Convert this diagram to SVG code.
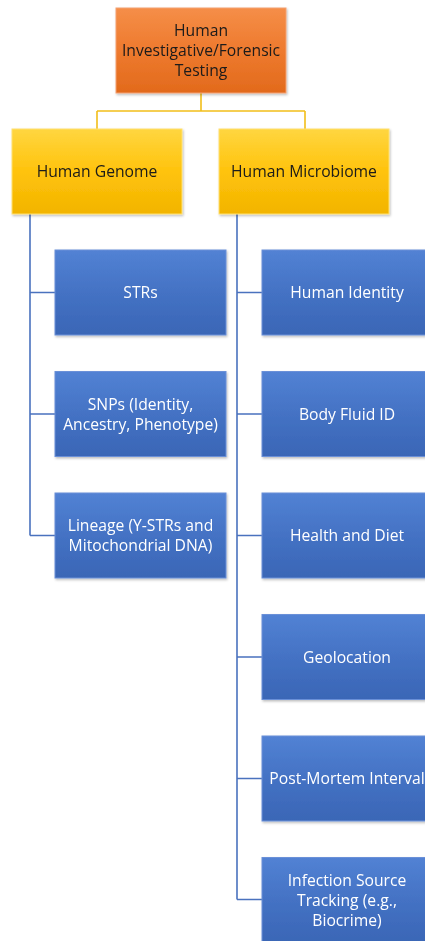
<svg xmlns="http://www.w3.org/2000/svg" width="425" height="941" viewBox="0 0 425 941">
<style>
.t{font-family:"Open Sans","Liberation Sans",Arial,sans-serif;font-size:15.7px;text-anchor:middle}
.dk{fill:#1a1a1a}
.wt{fill:#ffffff}
.cy{fill:none;stroke:#F2BE1A;stroke-width:1.6}
.cb{fill:none;stroke:#4A72BE;stroke-width:1.6}
.bo{fill:url(#go);stroke:#F3A070;stroke-width:1}
.by{fill:url(#gy);stroke:#FFE070;stroke-width:1}
.bb{fill:url(#gb);stroke:#6A90D8;stroke-width:1}
</style>
<defs>
<linearGradient id="go" x1="0" y1="0" x2="0" y2="1"><stop offset="0" stop-color="#F58E48"/><stop offset="0.5" stop-color="#EE7A2E"/><stop offset="1" stop-color="#E26A1C"/></linearGradient>
<linearGradient id="gy" x1="0" y1="0" x2="0" y2="1"><stop offset="0" stop-color="#FFD640"/><stop offset="0.5" stop-color="#FFC30C"/><stop offset="1" stop-color="#F2B400"/></linearGradient>
<linearGradient id="gb" x1="0" y1="0" x2="0" y2="1"><stop offset="0" stop-color="#5282D4"/><stop offset="0.5" stop-color="#4472C4"/><stop offset="1" stop-color="#3A66B6"/></linearGradient>
<filter id="sh" x="-5%" y="-5%" width="115%" height="115%"><feDropShadow dx="1" dy="1.5" stdDeviation="1" flood-color="#000" flood-opacity="0.25"/></filter>
</defs>
<g id="connectors">
<path class="cy" d="M201 93V111M97 111H305M97 111V129M305 111V129"/>
<path class="cb" d="M30 214V535.5M30 292.5H55M30 414H55M30 535.5H55"/>
<path class="cb" d="M237 214V899.5M237 292.5H262M237 414H262M237 535.5H262M237 657H262M237 778.5H262M237 899.5H262"/>
</g>
<g id="root" filter="url(#sh)"><rect class="bo" x="116" y="8" width="170" height="85"/><text class="t dk" x="201" y="36">Human</text><text class="t dk" x="201" y="56">Investigative/Forensic</text><text class="t dk" x="201" y="76">Testing</text></g>
<g id="genome" filter="url(#sh)"><rect class="by" x="12" y="129" width="170" height="85"/><text class="t dk" x="97" y="177">Human Genome</text></g>
<g id="microbiome" filter="url(#sh)"><rect class="by" x="219" y="129" width="170" height="85"/><text class="t dk" x="304" y="177">Human Microbiome</text></g>
<g id="strs" filter="url(#sh)"><rect class="bb" x="55" y="250" width="171" height="85"/><text class="t wt" x="140.5" y="298">STRs</text></g>
<g id="snps" filter="url(#sh)"><rect class="bb" x="55" y="371.5" width="171" height="85"/><text class="t wt" x="140.5" y="409.5">SNPs (Identity,</text><text class="t wt" x="140.5" y="429.5">Ancestry, Phenotype)</text></g>
<g id="lineage" filter="url(#sh)"><rect class="bb" x="55" y="493" width="171" height="85"/><text class="t wt" x="140.5" y="531">Lineage (Y-STRs and</text><text class="t wt" x="140.5" y="551">Mitochondrial DNA)</text></g>
<g id="identity" filter="url(#sh)"><rect class="bb" x="262" y="250" width="170" height="85"/><text class="t wt" x="347" y="298">Human Identity</text></g>
<g id="bodyfluid" filter="url(#sh)"><rect class="bb" x="262" y="371.5" width="170" height="85"/><text class="t wt" x="347" y="419.5">Body Fluid ID</text></g>
<g id="health" filter="url(#sh)"><rect class="bb" x="262" y="493" width="170" height="85"/><text class="t wt" x="347" y="541">Health and Diet</text></g>
<g id="geo" filter="url(#sh)"><rect class="bb" x="262" y="614.5" width="170" height="85"/><text class="t wt" x="347" y="662.5">Geolocation</text></g>
<g id="pmi" filter="url(#sh)"><rect class="bb" x="262" y="736" width="170" height="85"/><text class="t wt" x="347" y="784">Post-Mortem Interval</text></g>
<g id="infection" filter="url(#sh)"><rect class="bb" x="262" y="857.5" width="170" height="85"/><text class="t wt" x="347" y="885.5">Infection Source</text><text class="t wt" x="347" y="905.5">Tracking (e.g.,</text><text class="t wt" x="347" y="925.5">Biocrime)</text></g>
</svg>
